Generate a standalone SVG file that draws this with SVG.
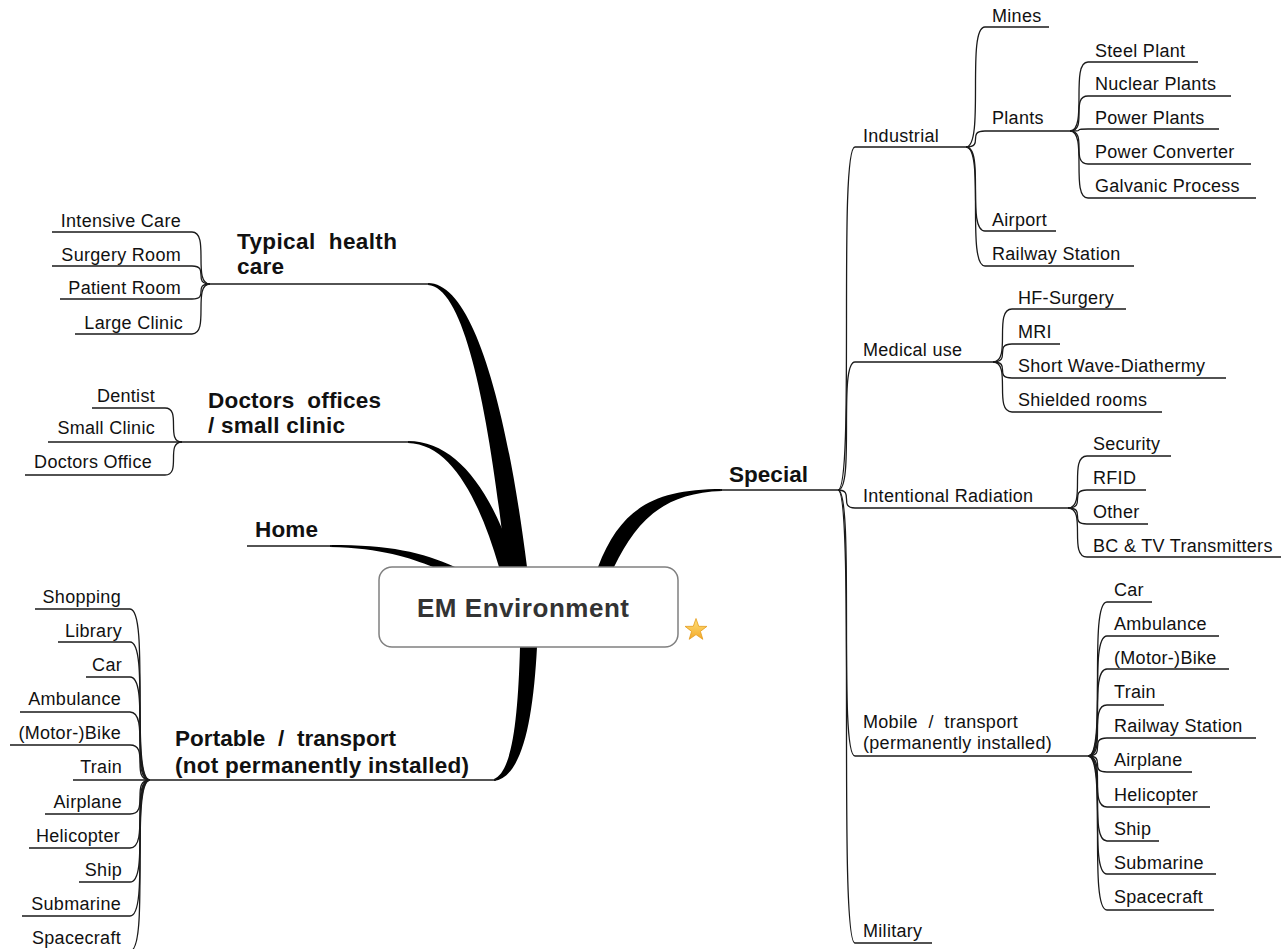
<svg xmlns="http://www.w3.org/2000/svg" width="1281" height="949" viewBox="0 0 1281 949">
<style>
.ln{fill:none;stroke:#1a1a1a;stroke-width:1.3}
.th{fill:#000;stroke:none}
.t{font-family:"Liberation Sans",Arial,sans-serif;font-size:18px;fill:#111;letter-spacing:0.3px;white-space:pre}
.b{font-family:"Liberation Sans",Arial,sans-serif;font-size:22.5px;font-weight:bold;fill:#111;white-space:pre}
.r{text-anchor:end}
</style>
<defs>
<linearGradient id="sg" x1="0" y1="0" x2="0" y2="1"><stop offset="0" stop-color="#ffe27a"/><stop offset="1" stop-color="#f4a92a"/></linearGradient>
</defs>
<rect width="1281" height="949" fill="#fff"/>
<g id="connectors">
<path class="th" d="M428,283C472,283 506,400 527,567L506,567C490,420 466,287 428,285Z"/>
<path class="th" d="M408,441C456,441 492,490 516,567L499,567C480,502 452,444 408,443Z"/>
<path class="th" d="M330,545C390,545 422,552 455,567L433,567C410,558 382,548 330,547Z"/>
<path class="th" d="M598,567C620,510 652,489 722,489L722,491C662,493 636,522 614,567Z"/>
<path class="th" d="M520,647C518,720 512,772 494,779L494,781C522,777 533,722 537,647Z"/>
<path class="ln" d="M210,284H430"/>
<path class="ln" d="M52,232H192C210,232 192,284 210,284"/>
<path class="ln" d="M52,266H192C210,266 192,284 210,284"/>
<path class="ln" d="M60,299H192C210,299 192,284 210,284"/>
<path class="ln" d="M75,334H192C210,334 192,284 210,284"/>
<path class="ln" d="M182,442H410"/>
<path class="ln" d="M92,408H165C182,408 165,442 182,442"/>
<path class="ln" d="M48,442H182"/>
<path class="ln" d="M25,475H165C182,475 165,442 182,442"/>
<path class="ln" d="M247,546H332"/>
<path class="ln" d="M150,780H496"/>
<path class="ln" d="M35,609H130C150,609 130,780 150,780"/>
<path class="ln" d="M58,642H130C150,642 130,780 150,780"/>
<path class="ln" d="M86,677H130C150,677 130,780 150,780"/>
<path class="ln" d="M20,712H130C150,712 130,780 150,780"/>
<path class="ln" d="M10,745H130C150,745 130,780 150,780"/>
<path class="ln" d="M73,780H150"/>
<path class="ln" d="M45,814H130C150,814 130,780 150,780"/>
<path class="ln" d="M29,848H130C150,848 130,780 150,780"/>
<path class="ln" d="M79,882H130C150,882 130,780 150,780"/>
<path class="ln" d="M22,916H130C150,916 130,780 150,780"/>
<path class="ln" d="M25,951H130C150,951 130,780 150,780"/>
<path class="ln" d="M720,490H838"/>
<path class="ln" d="M838,490C855,490 838,147 855,147H966"/>
<path class="ln" d="M838,490C855,490 838,362 855,362H993"/>
<path class="ln" d="M838,490C855,490 838,508 855,508H1068"/>
<path class="ln" d="M838,490C855,490 838,756 855,756H1088"/>
<path class="ln" d="M838,490C855,490 838,943 855,943H932"/>
<path class="ln" d="M966,147C985,147 966,27 985,27H1049"/>
<path class="ln" d="M966,147C985,147 966,131 985,131H1070"/>
<path class="ln" d="M966,147C985,147 966,231 985,231H1056"/>
<path class="ln" d="M966,147C985,147 966,266 985,266H1134"/>
<path class="ln" d="M1070,131C1088,131 1070,62 1088,62H1198"/>
<path class="ln" d="M1070,131C1088,131 1070,96 1088,96H1231"/>
<path class="ln" d="M1070,131C1088,131 1070,129 1088,129H1219"/>
<path class="ln" d="M1070,131C1088,131 1070,164 1088,164H1251"/>
<path class="ln" d="M1070,131C1088,131 1070,198 1088,198H1256"/>
<path class="ln" d="M993,362C1012,362 993,309 1012,309H1126"/>
<path class="ln" d="M993,362C1012,362 993,344 1012,344H1060"/>
<path class="ln" d="M993,362C1012,362 993,378 1012,378H1226"/>
<path class="ln" d="M993,362C1012,362 993,412 1012,412H1162"/>
<path class="ln" d="M1068,508C1087,508 1068,456 1087,456H1171"/>
<path class="ln" d="M1068,508C1087,508 1068,490 1087,490H1146"/>
<path class="ln" d="M1068,508C1087,508 1068,524 1087,524H1148"/>
<path class="ln" d="M1068,508C1087,508 1068,557 1087,557H1281"/>
<path class="ln" d="M1088,756C1107,756 1088,602 1107,602H1152"/>
<path class="ln" d="M1088,756C1107,756 1088,636 1107,636H1219"/>
<path class="ln" d="M1088,756C1107,756 1088,669 1107,669H1229"/>
<path class="ln" d="M1088,756C1107,756 1088,705 1107,705H1164"/>
<path class="ln" d="M1088,756C1107,756 1088,738 1107,738H1256"/>
<path class="ln" d="M1088,756C1107,756 1088,772 1107,772H1192"/>
<path class="ln" d="M1088,756C1107,756 1088,807 1107,807H1210"/>
<path class="ln" d="M1088,756C1107,756 1088,841 1107,841H1159"/>
<path class="ln" d="M1088,756C1107,756 1088,874 1107,874H1216"/>
<path class="ln" d="M1088,756C1107,756 1088,910 1107,910H1214"/>
</g>
<g id="root">
<rect x="379" y="567" width="299" height="80" rx="13" fill="#fff" stroke="#808080" stroke-width="1.5"/>
<text x="523" y="617" text-anchor="middle" textLength="212" font-family="Liberation Sans, Arial, sans-serif" font-size="26" font-weight="bold" fill="#333">EM Environment</text>
<polygon points="696,618.5 698.7,626.3 706.9,626.4 700.4,631.4 702.8,639.3 696,634.6 689.2,639.3 691.6,631.4 685.1,626.4 693.3,626.3" fill="url(#sg)" stroke="#e39b1a" stroke-width="0.8"/>
</g>
<g id="typical"><text class="b" x="237" y="249" textLength="160">Typical  health</text><text class="b" x="237" y="274" textLength="47">care</text></g>
<g id="intensive-care"><text class="t r" x="181" y="227">Intensive Care</text></g>
<g id="surgery-room"><text class="t r" x="181" y="261">Surgery Room</text></g>
<g id="patient-room"><text class="t r" x="181" y="294">Patient Room</text></g>
<g id="large-clinic"><text class="t r" x="183" y="329">Large Clinic</text></g>
<g id="doctors"><text class="b" x="208" y="408" textLength="173">Doctors  offices</text><text class="b" x="208" y="433" textLength="137">/ small clinic</text></g>
<g id="dentist"><text class="t r" x="155" y="402">Dentist</text></g>
<g id="small-clinic"><text class="t r" x="155" y="434">Small Clinic</text></g>
<g id="doctors-office"><text class="t r" x="152" y="468">Doctors Office</text></g>
<g id="home"><text class="b" x="255" y="537" textLength="63">Home</text></g>
<g id="portable"><text class="b" x="175" y="746" textLength="221">Portable  /  transport</text><text class="b" x="175" y="773" textLength="294">(not permanently installed)</text></g>
<g id="p-shopping"><text class="t r" x="121" y="603">Shopping</text></g>
<g id="p-library"><text class="t r" x="122" y="637">Library</text></g>
<g id="p-car"><text class="t r" x="122" y="671">Car</text></g>
<g id="p-ambulance"><text class="t r" x="121" y="705">Ambulance</text></g>
<g id="p-bike"><text class="t r" x="121" y="739">(Motor-)Bike</text></g>
<g id="p-train"><text class="t r" x="122" y="773">Train</text></g>
<g id="p-airplane"><text class="t r" x="122" y="808">Airplane</text></g>
<g id="p-helicopter"><text class="t r" x="120" y="842">Helicopter</text></g>
<g id="p-ship"><text class="t r" x="122" y="876">Ship</text></g>
<g id="p-submarine"><text class="t r" x="121" y="910">Submarine</text></g>
<g id="p-spacecraft"><text class="t r" x="121" y="944">Spacecraft</text></g>
<g id="special"><text class="b" x="729" y="482" textLength="79">Special</text></g>
<g id="industrial"><text class="t" x="863" y="142">Industrial</text></g>
<g id="mines"><text class="t" x="992" y="22">Mines</text></g>
<g id="plants"><text class="t" x="992" y="124">Plants</text></g>
<g id="steel-plant"><text class="t" x="1095" y="57">Steel Plant</text></g>
<g id="nuclear-plants"><text class="t" x="1095" y="90">Nuclear Plants</text></g>
<g id="power-plants"><text class="t" x="1095" y="124">Power Plants</text></g>
<g id="power-converter"><text class="t" x="1095" y="158">Power Converter</text></g>
<g id="galvanic-process"><text class="t" x="1095" y="192">Galvanic Process</text></g>
<g id="airport"><text class="t" x="992" y="226">Airport</text></g>
<g id="railway-station"><text class="t" x="992" y="260">Railway Station</text></g>
<g id="medical-use"><text class="t" x="863" y="356">Medical use</text></g>
<g id="hf-surgery"><text class="t" x="1018" y="304">HF-Surgery</text></g>
<g id="mri"><text class="t" x="1018" y="338">MRI</text></g>
<g id="short-wave"><text class="t" x="1018" y="372">Short Wave-Diathermy</text></g>
<g id="shielded-rooms"><text class="t" x="1018" y="406">Shielded rooms</text></g>
<g id="intentional"><text class="t" x="863" y="502">Intentional Radiation</text></g>
<g id="security"><text class="t" x="1093" y="450">Security</text></g>
<g id="rfid"><text class="t" x="1093" y="484">RFID</text></g>
<g id="other"><text class="t" x="1093" y="518">Other</text></g>
<g id="bc-tv"><text class="t" x="1093" y="552">BC &amp; TV Transmitters</text></g>
<g id="mobile"><text class="t" x="863" y="728">Mobile  /  transport</text><text class="t" x="863" y="749">(permanently installed)</text></g>
<g id="m-car"><text class="t" x="1114" y="596">Car</text></g>
<g id="m-ambulance"><text class="t" x="1114" y="630">Ambulance</text></g>
<g id="m-bike"><text class="t" x="1114" y="664">(Motor-)Bike</text></g>
<g id="m-train"><text class="t" x="1114" y="698">Train</text></g>
<g id="m-railway"><text class="t" x="1114" y="732">Railway Station</text></g>
<g id="m-airplane"><text class="t" x="1114" y="766">Airplane</text></g>
<g id="m-helicopter"><text class="t" x="1114" y="801">Helicopter</text></g>
<g id="m-ship"><text class="t" x="1114" y="835">Ship</text></g>
<g id="m-submarine"><text class="t" x="1114" y="869">Submarine</text></g>
<g id="m-spacecraft"><text class="t" x="1114" y="903">Spacecraft</text></g>
<g id="military"><text class="t" x="863" y="937">Military</text></g>
</svg>
